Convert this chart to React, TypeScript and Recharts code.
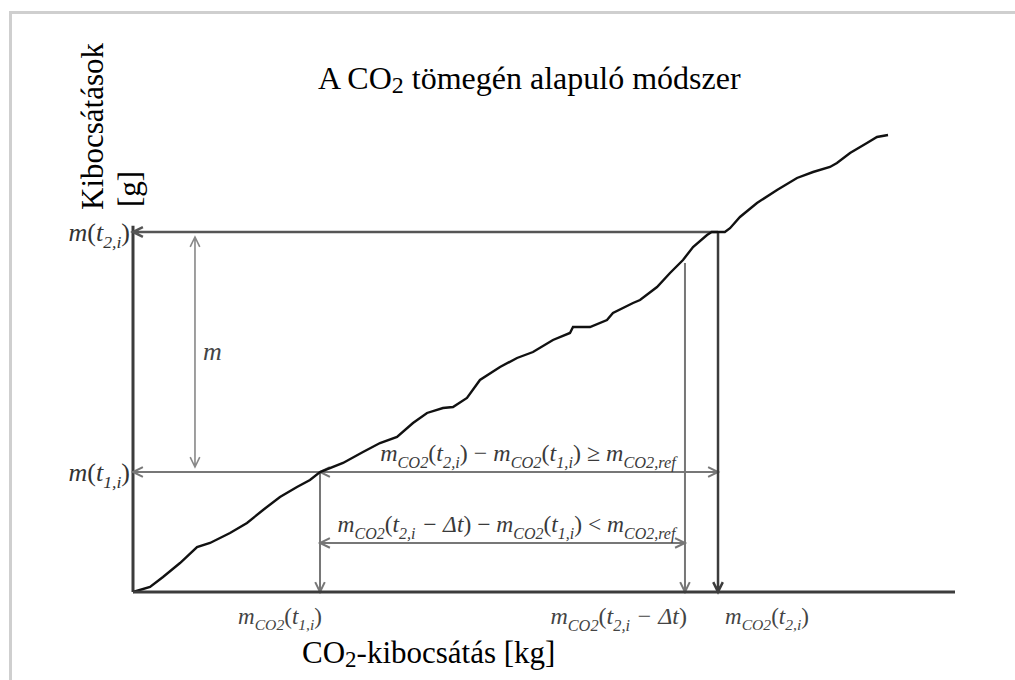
import { LineChart, Line, XAxis, YAxis, ReferenceLine } from "recharts";

// cumulative CO2 curve (x = CO2 emitted, y = emissions), 0-100 scale
const curveX = [
  0, 2.07, 3.65, 5.72, 7.79, 9.37, 11.8, 13.87, 15.82, 17.88, 19.95, 21.53, 22.75,
  25.55, 27.98, 30.05, 32.12, 34.06, 35.77, 37.71, 38.93, 40.63, 42.21, 44.65, 46.72,
  48.66, 51.09, 53.16, 53.53, 55.6, 57.66, 58.39, 60.83, 61.68, 63.75, 65.33, 66.91,
  68.13, 69.83, 70.4, 72.0, 72.63, 73.84, 75.91, 78.35, 80.78, 82.73, 84.79, 85.64,
  87.23, 89.29, 90.51, 91.85,
];
const curveY = [
  0, 1.06, 3.19, 6.17, 9.57, 10.43, 12.55, 14.68, 17.45, 20.21, 22.34, 23.83, 25.53,
  27.45, 29.79, 31.7, 32.98, 35.96, 38.09, 39.15, 39.36, 41.28, 45.11, 47.87, 49.79,
  51.06, 53.62, 55.11, 56.38, 56.38, 57.87, 59.36, 61.49, 62.13, 64.89, 67.87, 70.64,
  73.4, 75.96, 76.6, 76.6, 77.4, 79.79, 82.77, 85.53, 88.09, 89.36, 90.43, 91.28,
  93.4, 95.53, 96.81, 97.23,
];

// marked positions: m_CO2(t1,i), m_CO2(t2,i - dt), m_CO2(t2,i)
const xMarks = [22.75, 67.15, 71.17];
// marked levels: m(t1,i), m(t2,i)
const yMarks = [25.53, 76.6];
const yAxisTop = 77.9;
const deltaTop = 70.0;
const lowerArrowLevel = 10.43;
const mArrow = [7.54, 75.53, 26.6]; // x, top, bottom

// text pieces: [text, kind] with i = italic, n = normal, s = subscript
type Part = [string, string];
const mco2: Part[] = [["m", "i"], ["CO2", "s"]];
const xMarkLabels: Part[][] = [
  [...mco2, ["(", "n"], ["t", "i"], ["1,i", "s"], [")", "n"]],
  [...mco2, ["(", "n"], ["t", "i"], ["2,i", "s"], [" \u2212 \u0394t", "i"], [")", "n"]],
  [...mco2, ["(", "n"], ["t", "i"], ["2,i", "s"], [")", "n"]],
];
const yMarkLabels: Part[][] = [
  [["m", "i"], ["(", "n"], ["t", "i"], ["1,i", "s"], [")", "n"]],
  [["m", "i"], ["(", "n"], ["t", "i"], ["2,i", "s"], [")", "n"]],
];
const upperFormula: Part[] = [
  ...mco2, ["(", "n"], ["t", "i"], ["2,i", "s"], [") \u2212 ", "n"],
  ...mco2, ["(", "n"], ["t", "i"], ["1,i", "s"], [") \u2265 ", "n"],
  ["m", "i"], ["CO2,ref", "s"],
];
const lowerFormula: Part[] = [
  ...mco2, ["(", "n"], ["t", "i"], ["2,i", "s"], [" \u2212 \u0394t", "i"], [") \u2212 ", "n"],
  ...mco2, ["(", "n"], ["t", "i"], ["1,i", "s"], [") < ", "n"],
  ["m", "i"], ["CO2,ref", "s"],
];

const title = "A CO";
const titleRest = " tömegén alapuló módszer";
const yTitle = ["Kibocsátások", "[g]"];
const xTitle = ["CO", "2", "-kibocsátás [kg]"];

const data = curveX.map((x, i) => ({ x, y: curveY[i] }));

const serif = "'Liberation Serif', 'Times New Roman', 'DejaVu Serif', serif";

function Formula(props: { x: number; y: number; anchor: string; size: number; parts: Part[]; fill?: string }) {
  const { x, y, anchor, size, parts, fill = "#3a3a3a" } = props;
  let shift = 0;
  return (
    <text x={x} y={y} textAnchor={anchor} fontFamily={serif} fontSize={size} fill={fill}>
      {parts.map(([t, k], j) => {
        const target = k === "s" ? size * 0.28 : 0;
        const dy = target - shift;
        shift = target;
        return (
          <tspan key={j} dy={dy} fontStyle={k === "n" ? "normal" : "italic"} fontSize={k === "s" ? size * 0.68 : size}>
            {t}
          </tspan>
        );
      })}
    </text>
  );
}

const arrowShape =
  (start: boolean, end: boolean, color: string, width: number, extra?: (x1: number, y1: number, x2: number, y2: number) => any) =>
  (p: any) => {
    const { x1, y1, x2, y2 } = p;
    const ang = Math.atan2(y2 - y1, x2 - x1);
    const head = (x: number, y: number, a: number) => {
      const L = 11;
      const w = 0.45;
      return `M${x - L * Math.cos(a - w)},${y - L * Math.sin(a - w)}L${x},${y}L${x - L * Math.cos(a + w)},${y - L * Math.sin(a + w)}`;
    };
    let d = `M${x1},${y1}L${x2},${y2}`;
    if (start) d += head(x1, y1, ang + Math.PI);
    if (end) d += head(x2, y2, ang);
    return (
      <g>
        <path d={d} stroke={color} strokeWidth={width} fill="none" />
        {extra ? extra(x1, y1, x2, y2) : null}
      </g>
    );
  };

const XTick = (p: any) => {
  const i = xMarks.indexOf(p.payload.value);
  if (i < 0) return <g />;
  const anchor = i === 2 ? "start" : "end";
  const dx = i === 2 ? 7 : 2;
  return <Formula x={p.x + dx} y={p.y + 24} anchor={anchor} size={i === 1 ? 24 : 23} parts={xMarkLabels[i]} fill="#444" />;
};

const YTick = (p: any) => {
  const i = yMarks.indexOf(p.payload.value);
  if (i < 0) return <g />;
  return <Formula x={p.x + 5} y={p.y + 9} anchor="end" size={26} parts={yMarkLabels[i]} fill="#333" />;
};

const YTitle = (p: any) => {
  const vb = p.viewBox || { x: 10, y: 122 };
  const cx = vb.x + 93;
  const cy = vb.y + 88;
  return (
    <g fontFamily={serif} fontSize={31} fill="#000">
      <text x={cx} y={cy} transform={`rotate(-90 ${cx} ${cy})`} textAnchor="start">
        {yTitle[0]}
      </text>
      <text x={cx + 37} y={cy - 3} transform={`rotate(-90 ${cx + 37} ${cy - 3})`} textAnchor="start">
        {yTitle[1]}
      </text>
    </g>
  );
};

const XTitle = (p: any) => {
  const vb = p.viewBox || { x: 133, y: 592 };
  return (
    <text x={vb.x + 169} y={vb.y + 71} fontFamily={serif} fontSize={31} fill="#000">
      <tspan>{xTitle[0]}</tspan>
      <tspan dy={4} fontSize={23}>{xTitle[1]}</tspan>
      <tspan dy={-4}>{xTitle[2]}</tspan>
    </text>
  );
};

export default function App() {
  return (
    <div style={{ position: "absolute", left: 0, top: 0, width: 1015, height: 680, overflow: "hidden", background: "#fff" }}>
      {/* image frame: top and left edges only */}
      <div style={{ position: "absolute", left: 9, top: 11, width: 1006, height: 3, background: "#cfcfcf" }} />
      <div style={{ position: "absolute", left: 9, top: 11, width: 3, height: 669, background: "#cfcfcf" }} />
      <div
        style={{
          position: "absolute",
          left: 318,
          top: 62,
          fontFamily: serif,
          fontSize: 32,
          lineHeight: "32px",
          whiteSpace: "nowrap",
          color: "#000",
        }}
      >
        {title}
        <span style={{ fontSize: 24, position: "relative", top: 4 }}>2</span>
        {titleRest}
      </div>
      <div style={{ position: "absolute", left: 0, top: 0 }}>
        <LineChart width={1015} height={680} data={data} margin={{ top: 122, right: 60, bottom: 48, left: 10 }}>
          <XAxis
            type="number"
            dataKey="x"
            domain={[0, 100]}
            ticks={xMarks}
            tick={XTick}
            tickLine={false}
            axisLine={{ stroke: "#3c3c3c", strokeWidth: 3 }}
            height={40}
            interval={0}
            label={XTitle}
          />
          <YAxis
            type="number"
            dataKey="y"
            domain={[0, 100]}
            ticks={yMarks}
            tick={YTick}
            tickLine={false}
            axisLine={false}
            width={123}
            interval={0}
            label={YTitle}
          />
          {/* y axis line, shorter than the plot */}
          <ReferenceLine
            segment={[{ x: 0, y: 0 }, { x: 0, y: yAxisTop }]}
            ifOverflow="visible"
            shape={arrowShape(false, false, "#3c3c3c", 3)}
          />
          <ReferenceLine
            segment={[{ x: xMarks[2], y: yMarks[1] }, { x: 0, y: yMarks[1] }]}
            ifOverflow="visible"
            shape={arrowShape(false, true, "#555", 2.5)}
          />
          <ReferenceLine
            segment={[{ x: xMarks[0], y: yMarks[0] }, { x: 0, y: yMarks[0] }]}
            ifOverflow="visible"
            shape={arrowShape(false, true, "#777", 2)}
          />
          <ReferenceLine
            segment={[{ x: xMarks[0], y: yMarks[0] }, { x: xMarks[2], y: yMarks[0] }]}
            ifOverflow="visible"
            shape={arrowShape(true, true, "#777", 2, (x1, y1, x2) => (
              <Formula x={(x1 + x2) / 2 + 9} y={y1 - 11} anchor="middle" size={24} parts={upperFormula} />
            ))}
          />
          <ReferenceLine
            segment={[{ x: xMarks[0], y: lowerArrowLevel }, { x: xMarks[1], y: lowerArrowLevel }]}
            ifOverflow="visible"
            shape={arrowShape(true, true, "#777", 2, (x1, y1, x2) => (
              <Formula x={(x1 + x2) / 2 + 4} y={y1 - 11} anchor="middle" size={23.5} parts={lowerFormula} />
            ))}
          />
          <ReferenceLine
            segment={[{ x: xMarks[0], y: yMarks[0] }, { x: xMarks[0], y: 0 }]}
            ifOverflow="visible"
            shape={arrowShape(false, true, "#777", 2)}
          />
          <ReferenceLine
            segment={[{ x: xMarks[1], y: deltaTop }, { x: xMarks[1], y: 0 }]}
            ifOverflow="visible"
            shape={arrowShape(false, true, "#777", 2)}
          />
          <ReferenceLine
            segment={[{ x: xMarks[2], y: yMarks[1] }, { x: xMarks[2], y: 0 }]}
            ifOverflow="visible"
            shape={arrowShape(false, true, "#3c3c3c", 2.5)}
          />
          <ReferenceLine
            segment={[{ x: mArrow[0], y: mArrow[1] }, { x: mArrow[0], y: mArrow[2] }]}
            ifOverflow="visible"
            shape={arrowShape(true, true, "#888", 1.6, (x1, y1, _x2, y2) => (
              <text x={x1 + 8} y={(y1 + y2) / 2 + 8} fontFamily={serif} fontStyle="italic" fontSize={26} fill="#444">
                m
              </text>
            ))}
          />
          <Line type="linear" dataKey="y" stroke="#111" strokeWidth={2.4} dot={false} activeDot={false} isAnimationActive={false} />
        </LineChart>
      </div>
    </div>
  );
}
